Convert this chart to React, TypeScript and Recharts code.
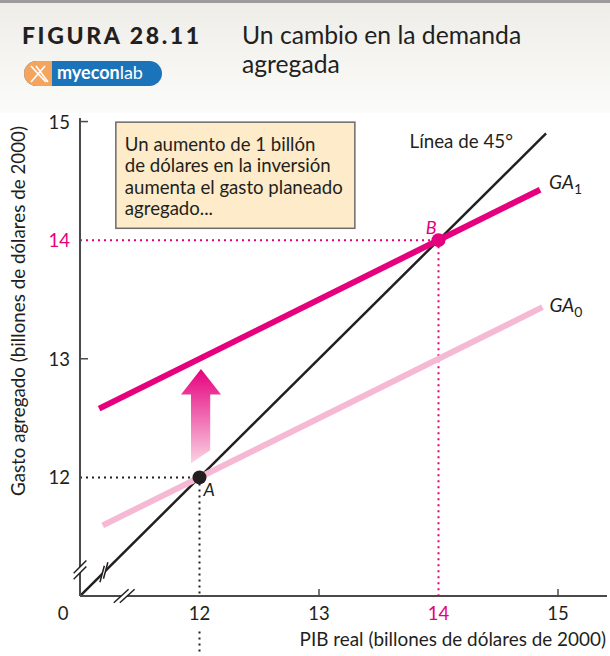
import React from 'react';
import {
  ComposedChart,
  Line,
  XAxis,
  YAxis,
  ReferenceLine,
  ReferenceDot,
  ReferenceArea,
} from 'recharts';

// ---- data ----
const xTicks = [12, 13, 14, 15];
const yTicks = [12, 13, 14, 15];
const line45X = [11.01, 14.9];
const ga0X = [11.19, 14.87];
const ga0Y = [11.595, 13.435];
const ga1X = [11.16, 14.85];
const ga1Y = [12.58, 14.425];
const pointA = { x: 12, y: 12 };
const pointB = { x: 14, y: 14 };
const arrowBox = { x1: 11.845, x2: 12.18, y1: 12.12, y2: 12.914 };
const noteBox = { x1: 11.3, x2: 13.3, y1: 14.1, y2: 14.995 };
const noteLines = [
  'Un aumento de 1 billón',
  'de dólares en la inversión',
  'aumenta el gasto planeado',
  'agregado...',
];
const xDomain = [11, 15.41];
const yDomain = [11, 15.03];

const line45 = line45X.map((x) => ({ x, y: x }));
const ga0 = ga0X.map((x, i) => ({ x, y: ga0Y[i] }));
const ga1 = ga1X.map((x, i) => ({ x, y: ga1Y[i] }));

const MAG = '#e5007e';
const PINK = '#f6b9d4';
const INK = '#231f20';
const AXIS = '#4a4a4a';
const FONT = "Lato, 'Noto Sans', sans-serif";

const XTick = (props: any) => {
  const { x, y, payload } = props;
  const v = payload.value;
  return (
    <g>
      {v !== 12 && v !== 14 && (
        <line x1={x} x2={x} y1={y} y2={y - 7} stroke={AXIS} strokeWidth={1.5} />
      )}
      <text
        x={x}
        y={y + 24}
        textAnchor="middle"
        fontSize={18.5}
        fontFamily={FONT}
        fill={v === 14 ? MAG : INK}
      >
        {v}
      </text>
    </g>
  );
};

const YTick = (props: any) => {
  const { x, y, payload } = props;
  const v = payload.value;
  return (
    <g>
      {v !== 12 && v !== 14 && (
        <line x1={x} x2={x + 8} y1={y} y2={y} stroke={AXIS} strokeWidth={1.5} />
      )}
      <text
        x={x - 10}
        y={y + 7}
        textAnchor="end"
        fontSize={18.5}
        fontFamily={FONT}
        fill={v === 14 ? MAG : INK}
      >
        {v}
      </text>
    </g>
  );
};

const breakMark = (
  ax: number,
  ay: number,
  sx: number,
  sy: number,
  L: number,
  d: number,
  sw: number
) => (p: any) => {
  const { cx, cy } = p;
  const c1 = [cx - (ax * d) / 2, cy - (ay * d) / 2];
  const c2 = [cx + (ax * d) / 2, cy + (ay * d) / 2];
  const e = (c: number[], s: number) => [c[0] + (s * sx * L) / 2, c[1] + (s * sy * L) / 2];
  const a1 = e(c1, -1), a2 = e(c1, 1), b1 = e(c2, -1), b2 = e(c2, 1);
  return (
    <g>
      <polygon
        points={`${a1[0]},${a1[1]} ${a2[0]},${a2[1]} ${b2[0]},${b2[1]} ${b1[0]},${b1[1]}`}
        fill="#fff"
      />
      <line x1={a1[0]} y1={a1[1]} x2={a2[0]} y2={a2[1]} stroke={INK} strokeWidth={sw} />
      <line x1={b1[0]} y1={b1[1]} x2={b2[0]} y2={b2[1]} stroke={INK} strokeWidth={sw} />
    </g>
  );
};

const ArrowShape = (p: any) => {
  const { x, y, width: w, height: h } = p;
  const headH = h * 0.27;
  const pts = [
    [x + w / 2, y],
    [x + w, y + headH],
    [x + w * 0.73, y + headH],
    [x + w * 0.73, y + h - 13],
    [x + w * 0.25, y + h],
    [x + w * 0.25, y + headH],
    [x, y + headH],
  ]
    .map((q) => q.join(','))
    .join(' ');
  return (
    <g>
      <defs>
        <linearGradient id="arrowGrad" x1="0" y1="0" x2="0" y2="1">
          <stop offset="0%" stopColor="#e6007e" />
          <stop offset="100%" stopColor="#fad3e4" />
        </linearGradient>
      </defs>
      <polygon points={pts} fill="url(#arrowGrad)" />
    </g>
  );
};

const NoteShape = (p: any) => {
  const { x, y, width: w, height: h } = p;
  return (
    <g>
      <rect x={x} y={y} width={w} height={h} fill="#fdebc9" stroke="#6b6b6b" strokeWidth={1.5} />
      {noteLines.map((t, i) => (
        <text key={i} x={x + 9} y={y + 29 + i * 21.3} fontSize={18.6} fontFamily={FONT} fill={INK}>
          {t}
        </text>
      ))}
    </g>
  );
};

const textAt = (
  content: React.ReactNode,
  dx: number,
  dy: number,
  anchor: string,
  color: string,
  size: number,
  italic = false
) => (p: any) => (
  <text
    x={p.cx + dx}
    y={p.cy + dy}
    textAnchor={anchor}
    fontSize={size}
    fontFamily={FONT}
    fontStyle={italic ? 'italic' : 'normal'}
    fill={color}
  >
    {content}
  </text>
);

const gaLabel = (sub: string) => (
  <>
    GA
    <tspan fontSize={14} fontStyle="normal" dy={5}>
      {sub}
    </tspan>
  </>
);

const Header = () => (
  <svg width={610} height={113} style={{ position: 'absolute', left: 0, top: 0 }}>
    <defs>
      <linearGradient id="hdrGrad" x1="0" y1="0" x2="0" y2="1">
        <stop offset="0%" stopColor="#eeede8" />
        <stop offset="100%" stopColor="#fbfbf9" />
      </linearGradient>
    </defs>
    <rect x={0} y={0} width={610} height={113} fill="url(#hdrGrad)" />
    <rect x={0} y={0} width={610} height={3} fill="#9b9b9b" />
    <text x={22} y={44} fontSize={23} fontWeight={900} letterSpacing={2.6} fontFamily={FONT} fill={INK}>
      FIGURA 28.11
    </text>
    <text x={242} y={44} fontSize={24.7} fontFamily={FONT} fill={INK}>
      Un cambio en la demanda
    </text>
    <text x={242} y={73} fontSize={24.7} fontFamily={FONT} fill={INK}>
      agregada
    </text>
    {/* logo */}
    <rect x={24} y={61} width={138} height={25} rx={12.5} fill="#1b73b9" />
    <path d="M36.5 61 H52 V86 H36.5 A12.5 12.5 0 0 1 36.5 61 Z" fill="#f5a45d" />
    <path d="M31 66 Q38 74 46 82 M45 66 Q38 74 31 82 M36 66 Q42 74 48 82" stroke="#fff" strokeWidth={1.6} fill="none" />
    <text x={57} y={79} fontSize={18} fontFamily={FONT} fill="#fff" fontWeight={700}>
      my
      <tspan fontWeight={700}>econ</tspan>
      <tspan fontWeight={400}>lab</tspan>
    </text>
  </svg>
);

export default function App() {
  return (
    <div style={{ position: 'relative', width: 610, height: 656, background: '#fff', fontFamily: FONT }}>
      <style>{'body{margin:0}'}</style>
      <Header />
      <div style={{ position: 'absolute', left: 0, top: 0 }}>
        <ComposedChart
          width={610}
          height={656}
          margin={{ top: 118, right: 3, bottom: 0, left: 0 }}
        >
          <XAxis
            type="number"
            dataKey="x"
            domain={xDomain}
            ticks={xTicks}
            allowDataOverflow
            height={60}
            axisLine={{ stroke: AXIS, strokeWidth: 2 }}
            tickLine={false}
            tickSize={0}
            tickMargin={0}
            tick={<XTick />}
            label={(p: any) => {
              const vb = p.viewBox;
              return (
                <text
                  x={vb.x + vb.width - 1}
                  y={vb.y + 50}
                  textAnchor="end"
                  fontSize={18.9}
                  fontFamily={FONT}
                  fill={INK}
                >
                  PIB real (billones de dólares de 2000)
                </text>
              );
            }}
          />
          <YAxis
            type="number"
            domain={yDomain}
            ticks={yTicks}
            allowDataOverflow
            width={80}
            axisLine={{ stroke: AXIS, strokeWidth: 2 }}
            tickLine={false}
            tickSize={0}
            tickMargin={0}
            tick={<YTick />}
            label={(p: any) => {
              const vb = p.viewBox;
              const cx = 17;
              const cy = vb.y + 193;
              return (
                <text
                  x={cx}
                  y={cy}
                  transform={`rotate(-90 ${cx} ${cy})`}
                  textAnchor="middle"
                  dominantBaseline="central"
                  fontSize={18.8}
                  fontFamily={FONT}
                  fill={INK}
                >
                  Gasto agregado (billones de dólares de 2000)
                </text>
              );
            }}
          />

          <ReferenceArea
            x1={noteBox.x1}
            x2={noteBox.x2}
            y1={noteBox.y1}
            y2={noteBox.y2}
            shape={<NoteShape />}
          />

          <ReferenceLine
            segment={[{ x: 11, y: pointA.y }, { x: pointA.x, y: pointA.y }]}
            stroke={INK}
            strokeWidth={2}
            strokeDasharray="2 4"
          />
          <ReferenceLine
            segment={[{ x: pointA.x, y: pointA.y }, { x: pointA.x, y: 11 }]}
            stroke={INK}
            strokeWidth={2}
            strokeDasharray="2 4"
          />
          <ReferenceLine
            segment={[{ x: pointA.x, y: 10.7 }, { x: pointA.x, y: 10.53 }]}
            stroke={INK}
            strokeWidth={2}
            strokeDasharray="2 4"
            ifOverflow="visible"
          />
          <ReferenceLine
            segment={[{ x: 11, y: pointB.y }, { x: pointB.x, y: pointB.y }]}
            stroke={MAG}
            strokeWidth={2}
            strokeDasharray="2 4"
          />
          <ReferenceLine
            segment={[{ x: pointB.x, y: pointB.y }, { x: pointB.x, y: 11 }]}
            stroke={MAG}
            strokeWidth={2}
            strokeDasharray="2 4"
          />

          <ReferenceArea
            x1={arrowBox.x1}
            x2={arrowBox.x2}
            y1={arrowBox.y1}
            y2={arrowBox.y2}
            shape={<ArrowShape />}
          />

          <Line
            data={line45}
            dataKey="y"
            stroke={INK}
            strokeWidth={2.5}
            dot={false}
            activeDot={false}
            isAnimationActive={false}
            type="linear"
          />
          <Line
            data={ga0}
            dataKey="y"
            stroke={PINK}
            strokeWidth={6}
            dot={false}
            activeDot={false}
            isAnimationActive={false}
            type="linear"
          />
          <Line
            data={ga1}
            dataKey="y"
            stroke={MAG}
            strokeWidth={6}
            dot={false}
            activeDot={false}
            isAnimationActive={false}
            type="linear"
          />

          <ReferenceDot x={pointA.x} y={pointA.y} r={7} fill={INK} stroke="none" />
          <ReferenceDot x={pointB.x} y={pointB.y} r={7} fill={MAG} stroke="none" />

          {/* axis breaks */}
          <ReferenceDot x={11} y={11.22} r={0} shape={breakMark(0, 1, 0.707, -0.707, 18, 6, 1.5)} />
          <ReferenceDot x={11.37} y={11} r={0} shape={breakMark(1, 0, 0.74, -0.67, 20, 6, 1.5)} />
          <ReferenceDot x={11.2} y={11.2} r={0} shape={breakMark(0.707, -0.707, 0.26, -0.97, 17, 5, 1.5)} />

          {/* text labels */}
          <ReferenceDot x={11} y={11} r={0} shape={textAt('0', -17, 24, 'middle', INK, 18.5)} />
          <ReferenceDot x={pointA.x} y={pointA.y} r={0} shape={textAt('A', 4, 19, 'start', INK, 18, true)} />
          <ReferenceDot x={pointB.x} y={pointB.y} r={0} shape={textAt('B', -2, -6, 'end', MAG, 18, true)} />
          <ReferenceDot x={line45X[1]} y={line45X[1]} r={0} shape={textAt('Línea de 45°', -33, 15, 'end', INK, 18.8)} />
          <ReferenceDot x={ga1X[1]} y={ga1Y[1]} r={0} shape={textAt(gaLabel('1'), 9, -1, 'start', INK, 19, true)} />
          <ReferenceDot x={ga0X[1]} y={ga0Y[1]} r={0} shape={textAt(gaLabel('0'), 7, 5, 'start', INK, 19, true)} />
        </ComposedChart>
      </div>
    </div>
  );
}
